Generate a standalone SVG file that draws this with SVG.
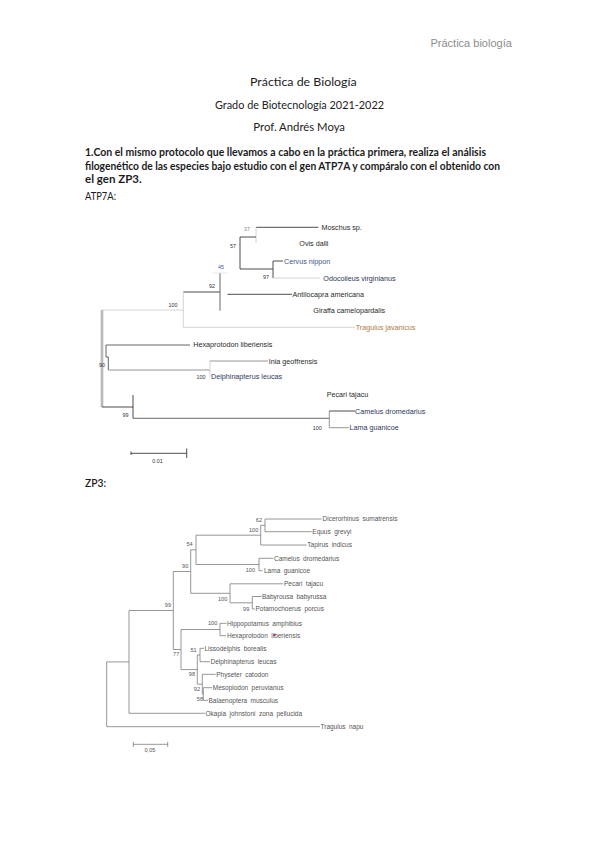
<svg xmlns="http://www.w3.org/2000/svg" width="599" height="848" viewBox="0 0 599 848">
<style>
.hdr{font-family:"Liberation Sans",Arial,sans-serif;font-size:11px;fill:#8c8c8c}
.doc{font-family:Lato,"Liberation Sans",sans-serif;font-size:11px;fill:#1c1c1c}
.b{font-weight:bold}
.ta{font-family:"Liberation Sans",Arial,sans-serif;font-size:7.2px;fill:#2a2a2a}
.bs{font-family:"Liberation Sans",Arial,sans-serif;font-size:5.4px;fill:#333;text-anchor:end}
.tz{font-family:"Liberation Sans",Arial,sans-serif;font-size:6.5px;fill:#555;word-spacing:1.6px}
.bz{font-family:"Liberation Sans",Arial,sans-serif;font-size:5.6px;fill:#555;text-anchor:end}
.lk{stroke:#383838;stroke-width:0.9;fill:none}
.lm{stroke:#8a8a8a;stroke-width:0.9;fill:none}
.ll{stroke:#cfcfcf;stroke-width:0.9;fill:none}
.lz{stroke:#7c7c7c;stroke-width:0.8;fill:none}
</style>
<rect width="599" height="848" fill="#ffffff"/>

<g id="header">
<text class="hdr" x="430.5" y="47">Práctica biología</text>
<text class="doc" x="250" y="86" textLength="106.7" lengthAdjust="spacingAndGlyphs">Práctica de Biología</text>
<text class="doc" x="215" y="109" textLength="169" lengthAdjust="spacingAndGlyphs">Grado de Biotecnología 2021-2022</text>
<text class="doc" x="253.3" y="131" textLength="91.7" lengthAdjust="spacingAndGlyphs">Prof. Andrés Moya</text>
<text class="doc b" x="85" y="156" textLength="401" lengthAdjust="spacingAndGlyphs">1.Con el mismo protocolo que llevamos a cabo en la práctica primera, realiza el análisis</text>
<text class="doc b" x="85" y="170" textLength="415" lengthAdjust="spacingAndGlyphs">filogenético de las especies bajo estudio con el gen ATP7A y compáralo con el obtenido con</text>
<text class="doc b" x="85" y="182.5" textLength="56.7" lengthAdjust="spacingAndGlyphs">el gen ZP3.</text>
<text class="doc" x="85" y="200" textLength="31" lengthAdjust="spacingAndGlyphs">ATP7A:</text>
<text class="doc" x="85" y="487" textLength="21" lengthAdjust="spacingAndGlyphs" style="font-weight:600">ZP3:</text>
</g>

<!-- ATP7A tree -->
<g id="atp7a-connectors">
<path class="lk" d="M256 227.3H318.3"/>
<path class="ll" d="M256 227.3V243"/>
<path class="lk" d="M240 237H256M240 237V269H273M273 261V278M273 261H283"/>
<path class="ll" d="M273 278H320"/>
<path class="ll" d="M212 273H228" style="stroke:#e4e4e4"/>
<path class="lk" d="M220 273.3V310.7" style="stroke:#555"/>
<path class="lk" d="M183.3 292H220"/>
<path class="lk" d="M227.5 294.3H292"/>
<path class="ll" d="M183.3 292V327.3H355"/>
<path class="ll" d="M102 310H183.3"/>
<path class="ll" d="M102 310V407" style="stroke-width:3"/>
<path class="lm" d="M102 310V407" style="stroke-width:0.6"/>
<path class="lk" d="M106 345H190M106 345V357H108.3V370" style="stroke:#555"/>
<path class="lm" d="M108.3 370H210"/>
<path class="ll" d="M210 361V377"/>
<path class="lm" d="M210 361H268"/>
<path class="lk" d="M102 407H133M133 395V418.3"/>
<path class="lk" d="M133 418.3H329.3" style="stroke:#5a5a5a"/>
<path class="lm" d="M329.3 411V427.7H349"/>
<path class="lk" d="M329.3 411H355"/>
<path class="lk" d="M131 453.3H186.7M131 451.5V455M186.7 448.5V458"/>
</g>

<g id="atp7a-labels">
<g id="a-moschus"><text class="ta" x="321.5" y="229.8">Moschus sp.</text></g>
<g id="a-ovis"><text class="ta" x="299.3" y="245.6">Ovis dalli</text></g>
<g id="a-cervus"><text class="ta" x="284" y="263.6" style="fill:#3b5a92">Cervus nippon</text></g>
<g id="a-odocoileus"><text class="ta" x="323.3" y="280.6" style="fill:#2b3550">Odocoileus virginianus</text></g>
<g id="a-antilocapra"><text class="ta" x="292.5" y="296.8">Antilocapra americana</text></g>
<g id="a-giraffa"><text class="ta" x="313.3" y="312.8">Giraffa camelopardalis</text></g>
<g id="a-tragulus"><text class="ta" x="355.7" y="329.6" style="fill:#b07a40">Tragulus javanicus</text></g>
<g id="a-hexaprotodon"><text class="ta" x="193.3" y="347">Hexaprotodon liberiensis</text></g>
<g id="a-inia"><text class="ta" x="268.7" y="363.6">Inia geoffrensis</text></g>
<g id="a-delphinapterus"><text class="ta" x="211" y="379.3" style="fill:#2d3a5a">Delphinapterus leucas</text></g>
<g id="a-pecari"><text class="ta" x="326.7" y="396.6">Pecari tajacu</text></g>
<g id="a-camelus"><text class="ta" x="355" y="413.6" style="fill:#2d3a5a">Camelus dromedarius</text></g>
<g id="a-lama"><text class="ta" x="349.5" y="430.3" style="fill:#2d3a5a">Lama guanicoe</text></g>
<g id="a-bootstrap">
<text class="bs" x="250" y="230.5" style="fill:#888">37</text>
<text class="bs" x="236" y="248">57</text>
<text class="bs" x="269" y="279">97</text>
<text class="bs" x="224" y="269" style="fill:#3b5a92">45</text>
<text class="bs" x="215" y="288">92</text>
<text class="bs" x="177.5" y="306.5">100</text>
<text class="bs" x="105" y="367">90</text>
<text class="bs" x="205.5" y="378.5">100</text>
<text class="bs" x="128.5" y="416.5">99</text>
<text class="bs" x="321.7" y="429.5">100</text>
<text class="bs" x="157.5" y="462.5" style="text-anchor:middle">0.01</text>
</g>
</g>

<!-- ZP3 tree -->
<g id="zp3-connectors">
<path class="lz" d="M265 519H321.7M265 531.7H311.7M265 519V531.7"/>
<path class="lz" d="M260.7 525.3H265M260.7 525.3V545H306.7"/>
<path class="lz" d="M196 535.2H260.7M259 558.3V570.7M259 558.3H273.3M259 570.7H262.5M196 564.5H259M196 535.2V564.5"/>
<path class="lz" d="M190.7 549.8H196"/>
<path class="lz" d="M230 583.8H283.3M252.3 596.5H261.5M252.3 609H255M252.3 596.5V609M230 602.8H252.3M230 583.8V602.8M190.7 593.3H230M190.7 549.8V593.3"/>
<path class="lz" d="M173.3 571.5H190.7"/>
<path class="lz" d="M220 623.3H226.5M220 635.7H226M220 623.3V635.7M181 629.5H220"/>
<path class="lz" d="M200 648.3H204M200 661.7H210M200 648.3V661.7"/>
<path class="lz" d="M203.3 687.7H212.3M203.3 700.3H208M203.3 687.7V700.3"/>
<path class="lz" d="M202.3 674.3H215.7M202.3 674.3V694H203.3"/>
<path class="lz" d="M197.3 655H200M197.3 684.2H202.3M197.3 655V684.2"/>
<path class="lz" d="M181 669.6H197.3M181 629.5V669.6M173.3 649.5H181M173.3 571.5V649.5"/>
<path class="lz" d="M129 610.5H173.3M129 713.3H205M129 610.5V713.3"/>
<path class="lz" d="M106.7 661.9H129M106.7 726.7H320M106.7 661.9V726.7"/>
<path class="lz" d="M133.3 744.3H167.7M133.3 741.8V746.8M167.7 741.8V746.8"/>
</g>

<g id="zp3-labels">
<g id="z-dicerorhinus"><text class="tz" x="322.5" y="521.3">Dicerorhinus sumatrensis</text></g>
<g id="z-equus"><text class="tz" x="312.3" y="534">Equus grevyi</text></g>
<g id="z-tapirus"><text class="tz" x="307.3" y="547.3">Tapirus indicus</text></g>
<g id="z-camelus"><text class="tz" x="274" y="560.6">Camelus dromedarius</text></g>
<g id="z-lama"><text class="tz" x="264" y="573">Lama guanicoe</text></g>
<g id="z-pecari"><text class="tz" x="284" y="586.2">Pecari tajacu</text></g>
<g id="z-babyrousa"><text class="tz" x="262" y="598.8">Babyrousa babyrussa</text></g>
<g id="z-potamochoerus"><text class="tz" x="255.5" y="611.3">Potamochoerus porcus</text></g>
<g id="z-hippopotamus"><text class="tz" x="227" y="625.6">Hippopotamus amphibius</text></g>
<g id="z-hexaprotodon"><text class="tz" x="227" y="638">Hexaprotodon liberiensis</text><circle cx="274.3" cy="635" r="1.1" fill="#d62020"/></g>
<g id="z-lissodelphis"><text class="tz" x="204.5" y="650.6">Lissodelphis borealis</text></g>
<g id="z-delphinapterus"><text class="tz" x="210.5" y="664">Delphinapterus leucas</text></g>
<g id="z-physeter"><text class="tz" x="216.2" y="676.6">Physeter catodon</text></g>
<g id="z-mesoplodon"><text class="tz" x="212.8" y="690">Mesoplodon peruvianus</text></g>
<g id="z-balaenoptera"><text class="tz" x="208.5" y="702.6">Balaenoptera musculus</text></g>
<g id="z-okapia"><text class="tz" x="205.5" y="715.6">Okapia johnstoni zona pellucida</text></g>
<g id="z-tragulus"><text class="tz" x="320.5" y="729">Tragulus napu</text></g>
<g id="z-bootstrap">
<text class="bz" x="262" y="522">62</text>
<text class="bz" x="258.3" y="532">100</text>
<text class="bz" x="192.7" y="546.3">54</text>
<text class="bz" x="188.3" y="568">90</text>
<text class="bz" x="255" y="571.5">100</text>
<text class="bz" x="227.3" y="600.5">100</text>
<text class="bz" x="249.3" y="610.5">99</text>
<text class="bz" x="171" y="607">99</text>
<text class="bz" x="217.3" y="625.3">100</text>
<text class="bz" x="179.3" y="656.3">77</text>
<text class="bz" x="196.7" y="651.7">51</text>
<text class="bz" x="195" y="676.3">98</text>
<text class="bz" x="200" y="691.3">92</text>
<text class="bz" x="203" y="701">58</text>
<text class="bz" x="150" y="752.3" style="text-anchor:middle">0,05</text>
</g>
</g>
</svg>
